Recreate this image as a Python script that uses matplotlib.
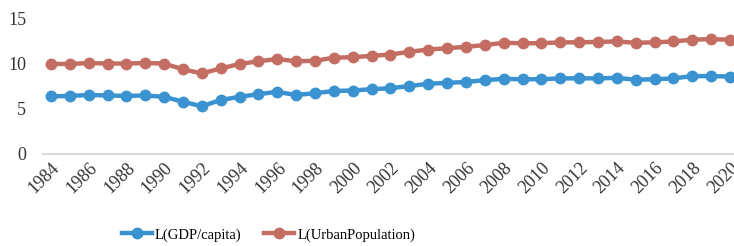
import matplotlib
matplotlib.use('Agg')
import matplotlib.pyplot as plt

# Data
years = list(range(1984, 2021))
gdp_capita = [6.4, 6.45, 6.55, 6.5, 6.45, 6.5, 6.35, 5.8, 5.3, 6.0, 6.35, 6.65, 6.9, 6.55, 6.75, 7.0, 7.05, 7.2,
              7.3, 7.55, 7.8, 7.9, 8.0, 8.2, 8.35, 8.3, 8.3, 8.4, 8.4, 8.4, 8.45, 8.25, 8.3, 8.4, 8.65, 8.65, 8.6]
urban_pop = [10.0, 10.0, 10.1, 10.05, 10.05, 10.1, 10.05, 9.4, 8.95, 9.5, 10.0, 10.3, 10.55, 10.3, 10.35, 10.7, 10.75, 10.9,
             11.05, 11.35, 11.6, 11.75, 11.9, 12.1, 12.35, 12.3, 12.3, 12.4, 12.4, 12.45, 12.5, 12.35, 12.4, 12.5, 12.7, 12.75, 12.7]
xtick_years = list(range(1984, 2021, 2))

plt.rcParams['font.family'] = ['Liberation Serif', 'DejaVu Serif']

fig = plt.figure(figsize=(7.34, 2.46), dpi=100)
ax = fig.add_axes([0.0586, 0.374, 0.9414, 0.549])

ax.plot(years, gdp_capita, color='#3A93D0', lw=3.2, marker='o', ms=7.5, label='L(GDP/capita)')
ax.plot(years, urban_pop, color='#C46E63', lw=3.2, marker='o', ms=7.5, label='L(UrbanPopulation)')

ax.set_xlim(1983.58, 2020.21)
ax.set_ylim(0, 15)
ax.set_yticks([0, 5, 10, 15])
ax.set_xticks(xtick_years)
ax.set_xticklabels([str(y) for y in xtick_years], rotation=45, ha='right', rotation_mode='anchor')

for s in ['top', 'right', 'left']:
    ax.spines[s].set_visible(False)
ax.spines['bottom'].set_color('#D9D9D9')
ax.spines['bottom'].set_linewidth(1.5)
ax.tick_params(axis='both', length=0, labelsize=13, colors='#333333')
ax.tick_params(axis='y', pad=12)
ax.tick_params(axis='x', pad=4)

ax.legend(loc='center', bbox_to_anchor=(0.326, -0.6), ncol=2, frameon=False,
          fontsize=10.5, handlelength=2.1, columnspacing=1.5, handletextpad=0.2, borderpad=0)

fig.savefig('out.png', dpi=100)
